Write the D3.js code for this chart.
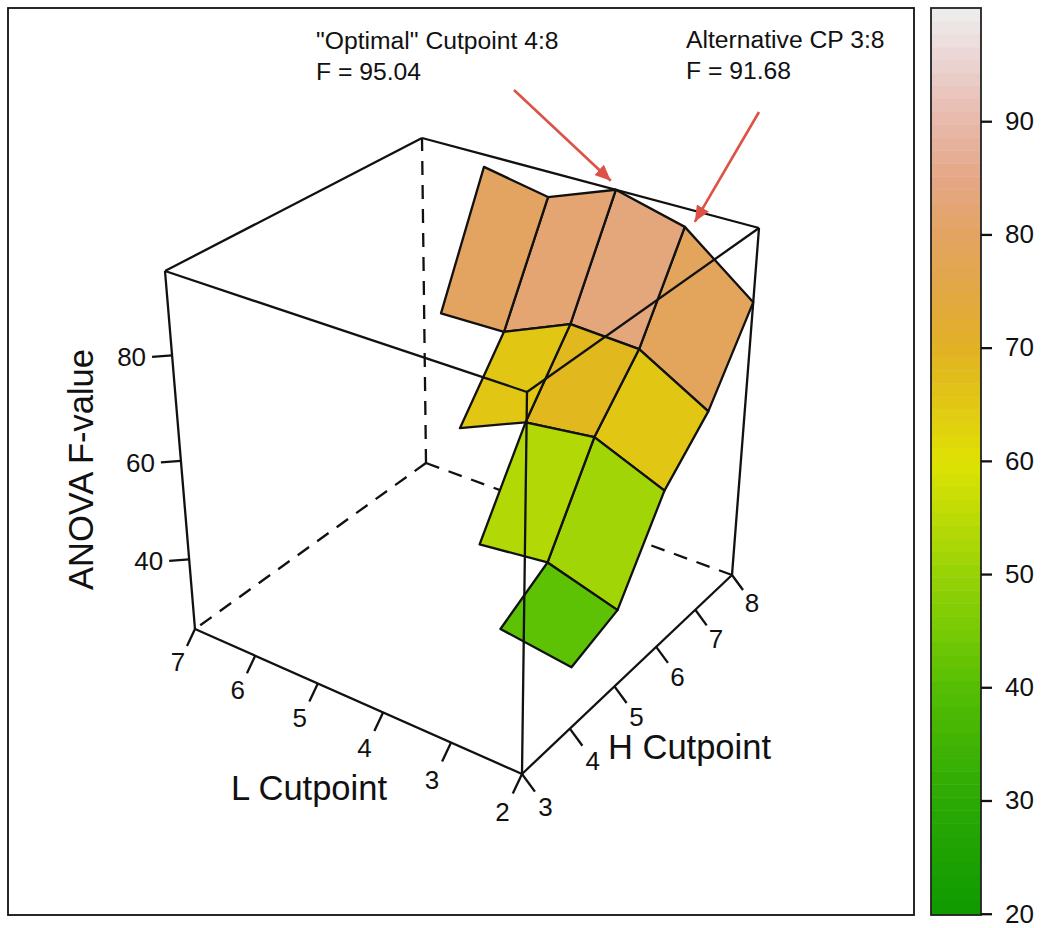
<!DOCTYPE html>
<html>
<head>
<meta charset="utf-8">
<title>ANOVA F-value by cutpoint</title>
<script src="https://cdn.jsdelivr.net/npm/d3@7"></script>
<style>
	body { margin: 0; background: #fff; }
	svg { display: block; }
	text { font-family: "Liberation Sans", Arial, sans-serif; fill: #111; }
</style>
</head>
<body>
<div id="chart"></div>
<script>
// F values, one array per H cutpoint, L cutpoint starts at 2
var fAtH8 = [81.4, 91.68, 95.04, 90.3, 92.7];
var fAtH7 = [66.4, 74.1, 74.8, 69.2, 68.9];
var fAtH6 = [57.5, 63.2, 61.5, 55.7];
var fAtH5 = [41, 45.2, 43.6];
var fAtH4 = [37.7, 39.6];

var hCuts = [8, 7, 6, 5, 4];
var lTicks = [2, 3, 4, 5, 6, 7];
var hTicks = [3, 4, 5, 6, 7, 8];
var zTicks = [40, 60, 80];
var legendTicks = [20, 30, 40, 50, 60, 70, 80, 90];

// colours read from the key
var colourValues = [20, 30, 40, 45, 50, 55, 60, 65, 70, 75, 80, 85, 90, 95, 100];
var colourStops = ["#0f9a00", "#2ba904", "#55be04", "#78ca05", "#96d206", "#bcdb06", "#dfe203",
	"#e1c814", "#e2b124", "#e2a845", "#e3a462", "#e5a786", "#e9b9ac", "#ead3d0", "#eeeeee"];

var notes = [
	{ l: 4, h: 8, f: 95.04, lines: ['"Optimal" Cutpoint 4:8', "F = 95.04"], x: 316, y: 49, from: [514, 90], gap: [-5, -9] },
	{ l: 3, h: 8, f: 91.68, lines: ["Alternative CP 3:8", "F = 91.68"], x: 686, y: 48, from: [759, 112], gap: [10, -5] }
];

var w = 1042;
var h = 928;

// the eight corners of the box on screen: [l][h][z], 0 = low end, 1 = high end
var corners = [
	[[[522, 774], [527, 392]], [[732, 575], [759, 228]]],
	[[[195, 629], [165, 271]], [[426, 463], [422, 138]]]
];

var lScale = d3.scaleLinear().domain([2, 7]).range([0, 1]);
var hScale = d3.scaleLinear().domain([3, 8]).range([0, 1]);
var zScale = d3.scaleLinear().domain([25, 95.04]).range([0, 1]);

// foreshortening along one box axis
function warp(t, k) {
	return k * t / ((1 - t) + k * t);
}

function project(l, hc, z) {
	var u = warp(lScale(l), 1.108);
	var v = warp(hScale(hc), 1.18);
	var t = warp(zScale(z), 0.887);
	var out = [0, 0];
	[0, 1].forEach(function(i){
		[0, 1].forEach(function(j){
			[0, 1].forEach(function(k){
				var wt = (i ? u : 1 - u) * (j ? v : 1 - v) * (k ? t : 1 - t);
				out[0] += wt * corners[i][j][k][0];
				out[1] += wt * corners[i][j][k][1];
			});
		});
	});
	return out;
}

var svg = d3.select("#chart").append("svg")
	.attr("width", w)
	.attr("height", h);

svg.append("rect")
	.attr("x", 8).attr("y", 8)
	.attr("width", 906).attr("height", 907)
	.attr("fill", "none")
	.attr("stroke", "#111")
	.attr("stroke-width", 1.8);

var colour = d3.scaleLinear().domain(colourValues).range(colourStops);

// key is cut into bands, surface cells take the band colour too
var bandSize = 80 / 70;
function bandColour(v) {
	return colour(20 + (Math.floor((v - 20) / bandSize) + 0.5) * bandSize);
}

var zMin = zScale.domain()[0];
var zMax = zScale.domain()[1];
var lineW = 2.3;

function boxEdge(a, b, dashed) {
	svg.append("line")
		.attr("x1", project(a[0], a[1], a[2])[0])
		.attr("y1", project(a[0], a[1], a[2])[1])
		.attr("x2", project(b[0], b[1], b[2])[0])
		.attr("y2", project(b[0], b[1], b[2])[1])
		.attr("stroke", "#111")
		.attr("stroke-width", lineW)
		.attr("stroke-dasharray", dashed ? "14 10" : null);
}

// back of the box, behind the surface
boxEdge([7, 8, zMin], [7, 8, zMax], true);
boxEdge([7, 8, zMin], [7, 3, zMin], true);
boxEdge([7, 8, zMin], [2, 8, zMin], true);
boxEdge([7, 3, zMax], [7, 8, zMax]);
boxEdge([7, 8, zMax], [2, 8, zMax]);
boxEdge([7, 3, zMin], [7, 3, zMax]);
boxEdge([2, 8, zMin], [2, 8, zMax]);
boxEdge([2, 3, zMin], [7, 3, zMin]);
boxEdge([2, 3, zMin], [2, 8, zMin]);

/********************************************************************
* Surface
*********************************************************************/
var rows = [fAtH8, fAtH7, fAtH6, fAtH5, fAtH4];
var cells = [];
rows.forEach(function(row, r){
	if (r === rows.length - 1) return;
	var next = rows[r + 1];
	for (var i = 0; i < next.length - 1; i++) {
		cells.push({
			pts: [
				project(2 + i, hCuts[r], row[i]),
				project(3 + i, hCuts[r], row[i + 1]),
				project(3 + i, hCuts[r + 1], next[i + 1]),
				project(2 + i, hCuts[r + 1], next[i])
			],
			mean: d3.mean([row[i], row[i + 1], next[i], next[i + 1]])
		});
	}
});

svg.selectAll(".cell")
	.data(cells)
	.enter()
	.append("path")
	.attr("class", "cell")
	.attr("d", function(d){
		return d3.line()(d.pts) + "Z";
	})
	.attr("fill", function(d){
		return bandColour(d.mean);
	})
	.attr("stroke", "#111")
	.attr("stroke-width", lineW)
	.attr("stroke-linejoin", "round");

// front of the box, over the surface
boxEdge([7, 3, zMax], [2, 3, zMax]);
boxEdge([2, 3, zMax], [2, 8, zMax]);
boxEdge([2, 3, zMin], [2, 3, zMax]);

/********************************************************************
* Box ticks
*********************************************************************/
// near ticks come out a little longer than far ones, grow = factor per value
function boxTicks(cls, values, pos, tick, label, grow, anchor) {
	var g = svg.selectAll("." + cls)
		.data(values)
		.enter()
		.append("g")
		.attr("class", cls)
		.attr("transform", function(d){
			return "translate(" + pos(d) + ")";
		});
	g.append("line")
		.attr("x2", function(d){ return tick[0] * grow(d); })
		.attr("y2", function(d){ return tick[1] * grow(d); })
		.attr("stroke", "#111")
		.attr("stroke-width", lineW);
	g.append("text")
		.attr("x", function(d){ return label[0] * grow(d); })
		.attr("y", function(d){ return label[1] * grow(d); })
		.attr("text-anchor", anchor)
		.attr("dominant-baseline", "middle")
		.attr("font-size", 26)
		.text(function(d){ return d; });
}

boxTicks("ltick", lTicks, function(d){ return project(d, 3, zMin); }, [-8, 17], [-17, 35],
	function(d){ return 1 + 0.03 * (7 - d); }, "middle");
boxTicks("htick", hTicks, function(d){ return project(2, d, zMin); }, [11, 15], [20, 30],
	function(d){ return 1 + 0.035 * (8 - d); }, "middle");
boxTicks("ztick", zTicks, function(d){ return project(7, 3, d); }, [-20, 1.5], [-26, 4],
	function(){ return 1; }, "end");

svg.append("text")
	.attr("x", 231).attr("y", 800)
	.attr("font-size", 34.5)
	.text("L Cutpoint");

svg.append("text")
	.attr("x", 608).attr("y", 759)
	.attr("font-size", 34.5)
	.text("H Cutpoint");

svg.append("text")
	.attr("transform", "translate(93,469.5) rotate(-90)")
	.attr("text-anchor", "middle")
	.attr("font-size", 34.5)
	.text("ANOVA F-value");

/********************************************************************
* Notes and arrows
*********************************************************************/
var red = "#dc5247";

svg.append("defs").append("marker")
	.attr("id", "head")
	.attr("viewBox", "0 0 16 14")
	.attr("refX", 16)
	.attr("refY", 7)
	.attr("markerUnits", "userSpaceOnUse")
	.attr("markerWidth", 16)
	.attr("markerHeight", 14)
	.attr("orient", "auto")
	.append("path")
	.attr("d", "M0,0L16,7L0,14Z")
	.attr("fill", red);

notes.forEach(function(n){
	var tip = project(n.l, n.h, n.f);
	svg.append("line")
		.attr("x1", n.from[0])
		.attr("y1", n.from[1])
		.attr("x2", tip[0] + n.gap[0])
		.attr("y2", tip[1] + n.gap[1])
		.attr("stroke", red)
		.attr("stroke-width", 2.6)
		.attr("marker-end", "url(#head)");
	n.lines.forEach(function(s, i){
		svg.append("text")
			.attr("x", n.x)
			.attr("y", n.y + i * 31)
			.attr("font-size", 24.7)
			.text(s);
	});
});

/********************************************************************
* Colour key
*********************************************************************/
var keyY = d3.scaleLinear().domain([20, 100]).range([913.7, 8]);
var bands = d3.range(70).map(function(i){ return 20 + i * bandSize; });

svg.selectAll(".band")
	.data(bands)
	.enter()
	.append("rect")
	.attr("class", "band")
	.attr("x", 931)
	.attr("width", 50)
	.attr("y", function(d){ return keyY(d + bandSize); })
	.attr("height", function(d){ return keyY(d) - keyY(d + bandSize) + (d === 20 ? 1.5 : 0.5); })
	.attr("fill", function(d){ return bandColour(d + 0.01); });

svg.append("rect")
	.attr("x", 931).attr("y", 8)
	.attr("width", 50).attr("height", 907)
	.attr("fill", "none")
	.attr("stroke", "#222")
	.attr("stroke-width", 1.8);

var keyAxis = svg.append("g")
	.attr("transform", "translate(981,0)")
	.call(d3.axisRight(keyY).tickValues(legendTicks).tickSize(11).tickPadding(13));

keyAxis.select(".domain").remove();
keyAxis.selectAll("line").attr("stroke", "#111").attr("stroke-width", lineW);
keyAxis.selectAll("text").attr("font-size", 26).style("font-family", '"Liberation Sans", Arial, sans-serif');
</script>
</body>
</html>
